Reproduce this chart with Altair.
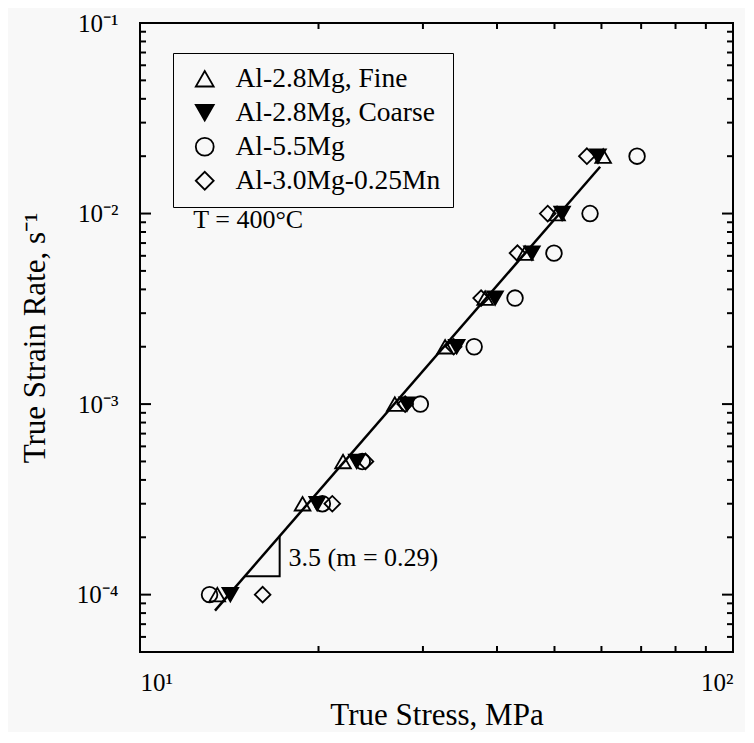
import altair as alt
import pandas as pd

# ---------------- data ----------------
series_names = ["Al-2.8Mg, Fine", "Al-2.8Mg, Coarse", "Al-5.5Mg", "Al-3.0Mg-0.25Mn"]
series_shapes = ["triangle-up", "triangle-down", "circle", "diamond"]
series_fills = ["transparent", "black", "transparent", "transparent"]
series_strokes = ["black", "black", "black", "black"]

strain_rate = [1e-4, 3e-4, 5e-4, 1e-3, 2e-3, 3.6e-3, 6.2e-3, 1e-2, 2e-2]
stress_fine = [13.5, 18.8, 22.0, 26.9, 32.7, 38.2, 44.6, 50.5, 60.4]
stress_coarse = [14.2, 19.9, 23.2, 28.2, 34.2, 39.7, 45.8, 51.5, 59.2]
stress_mg55 = [13.1, 20.3, 23.7, 29.7, 36.6, 42.9, 49.9, 57.4, 68.9]
stress_mn = [16.1, 21.1, 24.0, 28.0, 33.8, 37.6, 43.3, 48.7, 56.7]

fit_stress = [13.38, 59.7]
fit_rate = [8.24e-5, 1.76e-2]

slope_stress = [15.04, 17.2, 17.2]
slope_rate = [1.25e-4, 1.25e-4, 2.03e-4]

x_major = [10, 100]
x_minor = [20, 30, 40, 50, 60, 70, 80, 90]
x_major_labels = ["10\u00b9", "10\u00b2"]

y_major = [1e-4, 1e-3, 1e-2, 1e-1]
y_minor = [5e-5, 6e-5, 7e-5, 8e-5, 9e-5,
           2e-4, 3e-4, 4e-4, 5e-4, 6e-4, 7e-4, 8e-4, 9e-4,
           2e-3, 3e-3, 4e-3, 5e-3, 6e-3, 7e-3, 8e-3, 9e-3,
           2e-2, 3e-2, 4e-2, 5e-2, 6e-2, 7e-2, 8e-2, 9e-2]
y_major_labels = ["10\u207b\u2074", "10\u207b\u00b3", "10\u207b\u00b2", "10\u207b\u00b9"]

annot_text = ["3.5 (m = 0.29)", "T = 400\u00b0C"]
annot_stress = [17.8, 12.3]
annot_rate = [1.55e-4, 9.3e-3]

x_title = "True Stress, MPa"
y_title = "True Strain Rate, s\u207b\u00b9"

# ---------------- tables ----------------
rows = []
for name, xs in zip(series_names, [stress_fine, stress_coarse, stress_mg55, stress_mn]):
    for xv, yv in zip(xs, strain_rate):
        rows.append({"series": name, "stress": xv, "rate": yv})
df = pd.DataFrame(rows)
fit_df = pd.DataFrame({"stress": fit_stress, "rate": fit_rate})
slope_df = pd.DataFrame({"stress": slope_stress, "rate": slope_rate,
                         "k": list(range(len(slope_stress)))})
annot_df = pd.DataFrame({"text": annot_text, "stress": annot_stress, "rate": annot_rate})

FONT = "Liberation Serif"
BG = "#f8f8f8"
W, H = 593, 629
MAJOR_LEN, MINOR_LEN = 11, 6

x_scale = alt.Scale(type="log", domain=[10, 100], nice=False)
y_scale = alt.Scale(type="log", domain=[5e-5, 0.1], nice=False)


def label_expr(values, labels):
    expr = "''"
    for v, l in zip(values, labels):
        expr = f"datum.value == {v!r} ? '{l}' : ({expr})"
    return expr


common_axis = dict(grid=False, domain=False, ticks=False,
                   labelFont=FONT, labelColor="black", titleFont=FONT,
                   titleColor="black", titleFontWeight="normal")

x_axis = alt.Axis(orient="bottom", values=x_major,
                  labelExpr=label_expr(x_major, x_major_labels),
                  labelFontSize=25, labelPadding=18, labelOverlap=False,
                  titleFontSize=31, titlePadding=5, **common_axis)
y_axis = alt.Axis(orient="left", values=y_major,
                  labelExpr=label_expr(y_major, y_major_labels),
                  labelFontSize=25, labelPadding=22, labelOverlap=False,
                  titleFontSize=31, titlePadding=25, **common_axis)


def X(field):
    return alt.X(field, scale=x_scale, axis=x_axis, title=x_title)


def Y(field):
    return alt.Y(field, scale=y_scale, axis=y_axis, title=y_title)


legend = alt.Legend(title=None, orient="none", legendX=33, legendY=30,
                    padding=12, strokeColor="black", labelLimit=400,
                    labelFont=FONT, labelFontSize=27.5, labelColor="black",
                    symbolSize=320, symbolStrokeWidth=1.8, symbolStrokeColor="black",
                    rowPadding=5, labelOffset=17, symbolOffset=6)

points = alt.Chart(df).mark_point(filled=True, strokeWidth=1.8, opacity=1, size=245).encode(
    x=X("stress:Q"),
    y=Y("rate:Q"),
    shape=alt.Shape("series:N", scale=alt.Scale(domain=series_names, range=series_shapes),
                    legend=legend),
    fill=alt.Fill("series:N", scale=alt.Scale(domain=series_names, range=series_fills),
                  legend=legend),
    stroke=alt.Stroke("series:N", scale=alt.Scale(domain=series_names, range=series_strokes),
                      legend=legend),
)

fit = alt.Chart(fit_df).mark_line(color="black", strokeWidth=2.5).encode(
    x=X("stress:Q"), y=Y("rate:Q"),
)

slope = alt.Chart(slope_df).mark_line(color="black", strokeWidth=2).encode(
    x=X("stress:Q"), y=Y("rate:Q"), order="k:Q",
)

annots = alt.Chart(annot_df).mark_text(font=FONT, fontSize=26, color="black",
                                       align="left", baseline="middle").encode(
    x=X("stress:Q"), y=Y("rate:Q"), text="text:N",
)


# inward ticks on all four sides (positions through the scales)
def x_ticks_layer(values, length, side):
    d = pd.DataFrame({"v": values})
    if side == "bottom":
        y0, y1 = H, H - length
    else:
        y0, y1 = 0, length
    return alt.Chart(d).mark_rule(color="black", strokeWidth=2).encode(
        x=X("v:Q"), y=alt.value(y0), y2=alt.value(y1),
    )


def y_ticks_layer(values, length, side):
    d = pd.DataFrame({"v": values})
    if side == "left":
        x0, x1 = 0, length
    else:
        x0, x1 = W, W - length
    return alt.Chart(d).mark_rule(color="black", strokeWidth=2).encode(
        y=Y("v:Q"), x=alt.value(x0), x2=alt.value(x1),
    )


tick_layers = []
for side in ["bottom", "top"]:
    tick_layers.append(x_ticks_layer(x_major, MAJOR_LEN, side))
    tick_layers.append(x_ticks_layer(x_minor, MINOR_LEN, side))
for side in ["left", "right"]:
    tick_layers.append(y_ticks_layer(y_major, MAJOR_LEN, side))
    tick_layers.append(y_ticks_layer(y_minor, MINOR_LEN, side))

chart = alt.layer(*tick_layers, fit, slope, points, annots).properties(
    width=W, height=H,
    autosize=alt.AutoSizeParams(type="none"),
    padding={"left": 132, "top": 15, "right": 12, "bottom": 80},
    background=BG,
).configure_view(stroke="black", strokeWidth=2)

chart.save("out.html", embed_options={"renderer": "svg", "actions": False})
